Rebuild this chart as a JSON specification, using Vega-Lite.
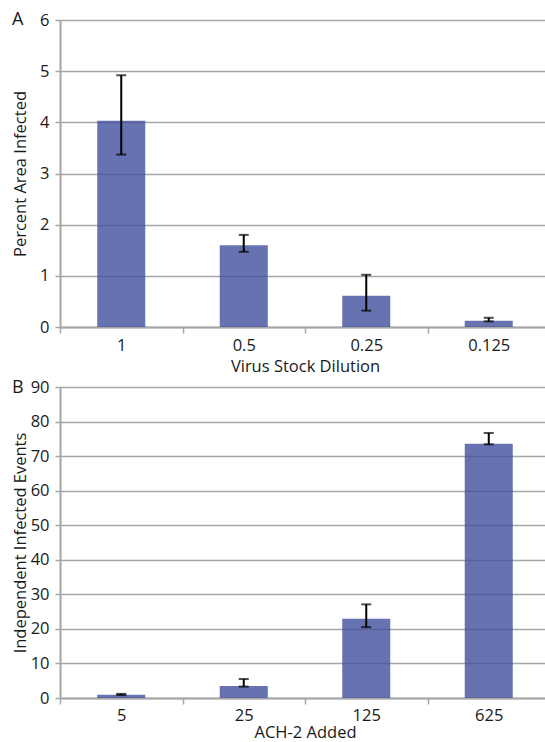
{
  "$schema": "https://vega.github.io/schema/vega-lite/v6.json",
  "padding": {"left": 12, "top": 11, "right": 0, "bottom": 0},
  "spacing": 4,
  "datasets": {
    "dilution": [
      {"dilution": "1", "pct": 4.03, "lo": 3.37, "hi": 4.92},
      {"dilution": "0.5", "pct": 1.6, "lo": 1.47, "hi": 1.8},
      {"dilution": "0.25", "pct": 0.61, "lo": 0.32, "hi": 1.02},
      {"dilution": "0.125", "pct": 0.12, "lo": 0.11, "hi": 0.18}
    ],
    "ach2": [
      {"ach": "5", "events": 0.95, "lo": 0.85, "hi": 1.2},
      {"ach": "25", "events": 3.5, "lo": 3.3, "hi": 5.5},
      {"ach": "125", "events": 22.9, "lo": 20.5, "hi": 27.1},
      {"ach": "625", "events": 73.6, "lo": 73.4, "hi": 76.7}
    ]
  },
  "vconcat": [
    {
      "title": {"text": "A", "anchor": "start", "frame": "bounds", "baseline": "alphabetic", "offset": 0, "dy": 31},
      "width": 490,
      "height": 307,
      "data": {"name": "dilution"},
      "encoding": {
        "x": {
          "field": "dilution", "type": "nominal", "sort": null,
          "title": "Virus Stock Dilution",
          "scale": {"paddingInner": 0, "paddingOuter": 0},
          "axis": {"labelAngle": 0}
        }
      },
      "layer": [
        {
          "mark": {"type": "bar", "color": "#40509c", "opacity": 0.8, "width": {"band": 0.392}},
          "encoding": {
            "y": {"field": "pct", "type": "quantitative", "title": "Percent Area Infected",
                  "scale": {"domain": [0, 6]}, "axis": {"values": [0, 1, 2, 3, 4, 5, 6]}}
          }
        },
        {
          "mark": {"type": "rule", "color": "#000000", "strokeWidth": 2},
          "encoding": {
            "y": {"field": "lo", "type": "quantitative", "title": "Percent Area Infected",
                  "axis": {"values": [0, 1, 2, 3, 4, 5, 6]}},
            "y2": {"field": "hi"}
          }
        },
        {
          "mark": {"type": "tick", "color": "#000000", "thickness": 2, "size": 10},
          "encoding": {"y": {"field": "lo", "type": "quantitative", "title": "Percent Area Infected",
                             "axis": {"values": [0, 1, 2, 3, 4, 5, 6]}}}
        },
        {
          "mark": {"type": "tick", "color": "#000000", "thickness": 2, "size": 10},
          "encoding": {"y": {"field": "hi", "type": "quantitative", "title": "Percent Area Infected",
                             "axis": {"values": [0, 1, 2, 3, 4, 5, 6]}}}
        }
      ]
    },
    {
      "title": {"text": "B", "anchor": "start", "frame": "bounds", "baseline": "alphabetic", "offset": 0, "dy": 32},
      "width": 490,
      "height": 311,
      "data": {"name": "ach2"},
      "encoding": {
        "x": {
          "field": "ach", "type": "nominal", "sort": null,
          "title": "ACH-2 Added",
          "scale": {"paddingInner": 0, "paddingOuter": 0},
          "axis": {"labelAngle": 0, "labelPadding": 3, "titlePadding": 1}
        }
      },
      "layer": [
        {
          "mark": {"type": "bar", "color": "#40509c", "opacity": 0.8, "width": {"band": 0.392}},
          "encoding": {
            "y": {"field": "events", "type": "quantitative", "title": "Independent Infected Events",
                  "scale": {"domain": [0, 90]}, "axis": {"values": [0, 10, 20, 30, 40, 50, 60, 70, 80, 90]}}
          }
        },
        {
          "mark": {"type": "rule", "color": "#000000", "strokeWidth": 2},
          "encoding": {
            "y": {"field": "lo", "type": "quantitative", "title": "Independent Infected Events",
                  "axis": {"values": [0, 10, 20, 30, 40, 50, 60, 70, 80, 90]}},
            "y2": {"field": "hi"}
          }
        },
        {
          "mark": {"type": "tick", "color": "#000000", "thickness": 2, "size": 10},
          "encoding": {"y": {"field": "lo", "type": "quantitative", "title": "Independent Infected Events",
                             "axis": {"values": [0, 10, 20, 30, 40, 50, 60, 70, 80, 90]}}}
        },
        {
          "mark": {"type": "tick", "color": "#000000", "thickness": 2, "size": 10},
          "encoding": {"y": {"field": "hi", "type": "quantitative", "title": "Independent Infected Events",
                             "axis": {"values": [0, 10, 20, 30, 40, 50, 60, 70, 80, 90]}}}
        }
      ]
    }
  ],
  "config": {
    "font": "Open Sans",
    "view": {"stroke": null},
    "title": {"font": "Open Sans", "fontSize": 18, "fontWeight": "normal", "color": "#1a1a1a"},
    "axis": {
      "labelFont": "Open Sans", "labelFontSize": 16.5, "labelColor": "#1a1a1a",
      "titleFont": "Open Sans", "titleFontSize": 16.5, "titleFontWeight": "normal", "titleColor": "#1a1a1a",
      "domainColor": "#a6a6a6", "tickColor": "#a6a6a6", "gridColor": "#a6a6a6"
    },
    "axisY": {
      "minExtent": 30, "maxExtent": 30, "tickSize": 5, "domainWidth": 2, "tickWidth": 1.5,
      "gridWidth": 1.5, "labelPadding": 6, "titlePadding": 2
    },
    "axisX": {
      "tickBand": "extent", "tickSize": 6, "domainWidth": 2, "tickWidth": 1.5, "grid": false,
      "labelPadding": 4, "titlePadding": 5
    }
  }
}
